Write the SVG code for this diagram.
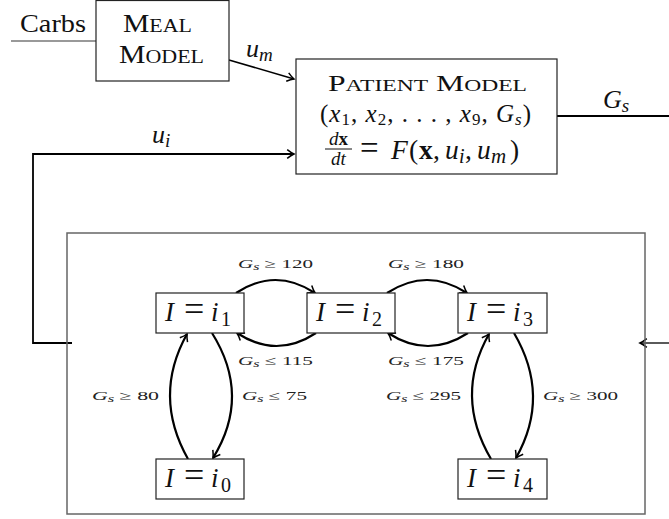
<svg xmlns="http://www.w3.org/2000/svg" width="669" height="519" viewBox="0 0 669 519">
<style>
text{font-family:"Liberation Serif","Times New Roman",serif;fill:#111}
.box{fill:#fff;stroke:#222;stroke-width:1.2}
.it{font-style:italic}
.st{font-size:27px}
.eq{font-size:36px}
.sub{font-size:20px}
.lbl{font-size:12.5px;fill:#222}
.arc{fill:none;stroke:#000;stroke-width:2.2;marker-end:url(#ah)}
.ln{fill:none;stroke:#000}
</style>
<defs>
<marker id="ah" markerWidth="12" markerHeight="12" refX="10" refY="6" orient="auto" markerUnits="userSpaceOnUse" overflow="visible">
<path d="M3.2,1.6 Q7,4.6 10,6 Q7,7.4 3.2,10.4" fill="none" stroke="#000" stroke-width="1.5"/>
</marker>
</defs>
<rect width="669" height="519" fill="#fff"/>

<g id="connectors">
<line x1="11" y1="41" x2="96" y2="41" stroke="#777" stroke-width="1.3"/>
<line class="ln" x1="229" y1="60" x2="294" y2="79" stroke-width="1.5" marker-end="url(#ah)"/>
<polyline class="ln" points="72,343 33,343 33,154 294,154" stroke-width="1.8" marker-end="url(#ah)"/>
<line class="ln" x1="557" y1="116" x2="669" y2="116" stroke-width="2"/>
<line class="ln" x1="669" y1="343" x2="640" y2="343" stroke-width="1.3" marker-end="url(#ah)"/>
<path class="arc" d="M236,293 Q275.5,267 315,293"/>
<path class="arc" d="M316,333 Q276.5,359 237,333"/>
<path class="arc" d="M387,293 Q427,267 467,293"/>
<path class="arc" d="M468,333 Q428,359 388,333"/>
<path class="arc" d="M188,459 Q152.5,396 187,334"/>
<path class="arc" d="M212,333 Q251.5,396 213,458"/>
<path class="arc" d="M491,459 Q454,396 489,334"/>
<path class="arc" d="M514,333 Q551,396 516,458"/>
</g>

<g id="carbs-label">
<text x="20" y="32" font-size="25" textLength="66" lengthAdjust="spacingAndGlyphs">Carbs</text>
</g>

<g id="meal-model">
<rect class="box" x="96" y="0.5" width="133" height="80.5"/>
<text x="123" y="32" font-size="25" textLength="69" lengthAdjust="spacingAndGlyphs">M<tspan font-size="18.5">EAL</tspan></text>
<text x="119" y="63" font-size="25" textLength="85" lengthAdjust="spacingAndGlyphs">M<tspan font-size="18.5">ODEL</tspan></text>
</g>

<g id="patient-model">
<rect class="box" x="296" y="59" width="261" height="115"/>
<text x="328" y="91" font-size="23.5" textLength="199" lengthAdjust="spacingAndGlyphs">P<tspan font-size="17.5">ATIENT</tspan> M<tspan font-size="17.5">ODEL</tspan></text>
<text x="320" y="122" font-size="25" textLength="211" lengthAdjust="spacing">(<tspan class="it">x</tspan><tspan font-size="17" dy="3">1</tspan><tspan dy="-3">, </tspan><tspan class="it">x</tspan><tspan font-size="17" dy="3">2</tspan><tspan dy="-3">, . . . , </tspan><tspan class="it">x</tspan><tspan font-size="17" dy="3">9</tspan><tspan dy="-3">, </tspan><tspan class="it">G</tspan><tspan class="it" font-size="17" dy="3">s</tspan><tspan dy="-3">)</tspan></text>
<text x="338.5" y="145" font-size="19" text-anchor="middle"><tspan class="it">d</tspan><tspan font-weight="bold">x</tspan></text>
<line x1="325" y1="149" x2="352" y2="149" stroke="#111" stroke-width="1"/>
<text x="338.5" y="165" font-size="19" text-anchor="middle" class="it">dt</text>
<text y="159" font-size="27.5"><tspan x="360" font-size="33">=</tspan><tspan x="391" class="it">F</tspan><tspan x="409">(</tspan><tspan x="419" font-weight="bold">x</tspan><tspan x="433">,</tspan><tspan x="445" class="it">u</tspan><tspan x="459" class="it" font-size="20" dy="4">i</tspan><tspan x="465" dy="-4">,</tspan><tspan x="477" class="it">u</tspan><tspan x="491" class="it" font-size="21" dy="4">m</tspan><tspan x="510" dy="-4">)</tspan></text>
</g>

<g id="signal-labels">
<text x="246" y="57" font-size="26"><tspan class="it">u</tspan><tspan class="it" font-size="19" dy="4">m</tspan></text>
<text x="152" y="143" font-size="26"><tspan class="it">u</tspan><tspan class="it" font-size="19" dy="4">i</tspan></text>
<text x="603" y="108" font-size="26"><tspan class="it">G</tspan><tspan class="it" font-size="19" dy="4">s</tspan></text>
</g>

<g id="controller">
<rect x="67" y="233" width="578" height="281" fill="none" stroke="#666" stroke-width="1.5"/>
</g>

<g id="state-i1">
<rect class="box" x="156" y="293" width="88" height="40"/>
<text class="st" y="321"><tspan x="165" class="it">I</tspan><tspan x="184" class="eq">=</tspan><tspan x="211" class="it">i</tspan><tspan x="221" class="sub" dy="5">1</tspan></text>
</g>
<g id="state-i2">
<rect class="box" x="307" y="293" width="88" height="40"/>
<text class="st" y="321"><tspan x="316" class="it">I</tspan><tspan x="335" class="eq">=</tspan><tspan x="362" class="it">i</tspan><tspan x="372" class="sub" dy="5">2</tspan></text>
</g>
<g id="state-i3">
<rect class="box" x="458" y="293" width="89" height="40"/>
<text class="st" y="321"><tspan x="467" class="it">I</tspan><tspan x="486" class="eq">=</tspan><tspan x="513" class="it">i</tspan><tspan x="523" class="sub" dy="5">3</tspan></text>
</g>
<g id="state-i0">
<rect class="box" x="156" y="459" width="88" height="40"/>
<text class="st" y="487"><tspan x="165" class="it">I</tspan><tspan x="184" class="eq">=</tspan><tspan x="211" class="it">i</tspan><tspan x="221" class="sub" dy="5">0</tspan></text>
</g>
<g id="state-i4">
<rect class="box" x="458" y="459" width="89" height="40"/>
<text class="st" y="487"><tspan x="467" class="it">I</tspan><tspan x="486" class="eq">=</tspan><tspan x="513" class="it">i</tspan><tspan x="523" class="sub" dy="5">4</tspan></text>
</g>

<g id="transition-labels">
<text class="lbl" x="238" y="268" textLength="75" lengthAdjust="spacingAndGlyphs"><tspan class="it">G</tspan><tspan class="it" font-size="9.5" dy="2">s</tspan><tspan dy="-2">  ≥  120</tspan></text>
<text class="lbl" x="238" y="365" textLength="75" lengthAdjust="spacingAndGlyphs"><tspan class="it">G</tspan><tspan class="it" font-size="9.5" dy="2">s</tspan><tspan dy="-2">  ≤  115</tspan></text>
<text class="lbl" x="388" y="268" textLength="76" lengthAdjust="spacingAndGlyphs"><tspan class="it">G</tspan><tspan class="it" font-size="9.5" dy="2">s</tspan><tspan dy="-2">  ≥  180</tspan></text>
<text class="lbl" x="388" y="365" textLength="76" lengthAdjust="spacingAndGlyphs"><tspan class="it">G</tspan><tspan class="it" font-size="9.5" dy="2">s</tspan><tspan dy="-2">  ≤  175</tspan></text>
<text class="lbl" x="92" y="400" textLength="67" lengthAdjust="spacingAndGlyphs"><tspan class="it">G</tspan><tspan class="it" font-size="9.5" dy="2">s</tspan><tspan dy="-2">  ≥  80</tspan></text>
<text class="lbl" x="242" y="400" textLength="65" lengthAdjust="spacingAndGlyphs"><tspan class="it">G</tspan><tspan class="it" font-size="9.5" dy="2">s</tspan><tspan dy="-2">  ≤  75</tspan></text>
<text class="lbl" x="386" y="400" textLength="75" lengthAdjust="spacingAndGlyphs"><tspan class="it">G</tspan><tspan class="it" font-size="9.5" dy="2">s</tspan><tspan dy="-2">  ≤  295</tspan></text>
<text class="lbl" x="543" y="400" textLength="75" lengthAdjust="spacingAndGlyphs"><tspan class="it">G</tspan><tspan class="it" font-size="9.5" dy="2">s</tspan><tspan dy="-2">  ≥  300</tspan></text>
</g>
</svg>
